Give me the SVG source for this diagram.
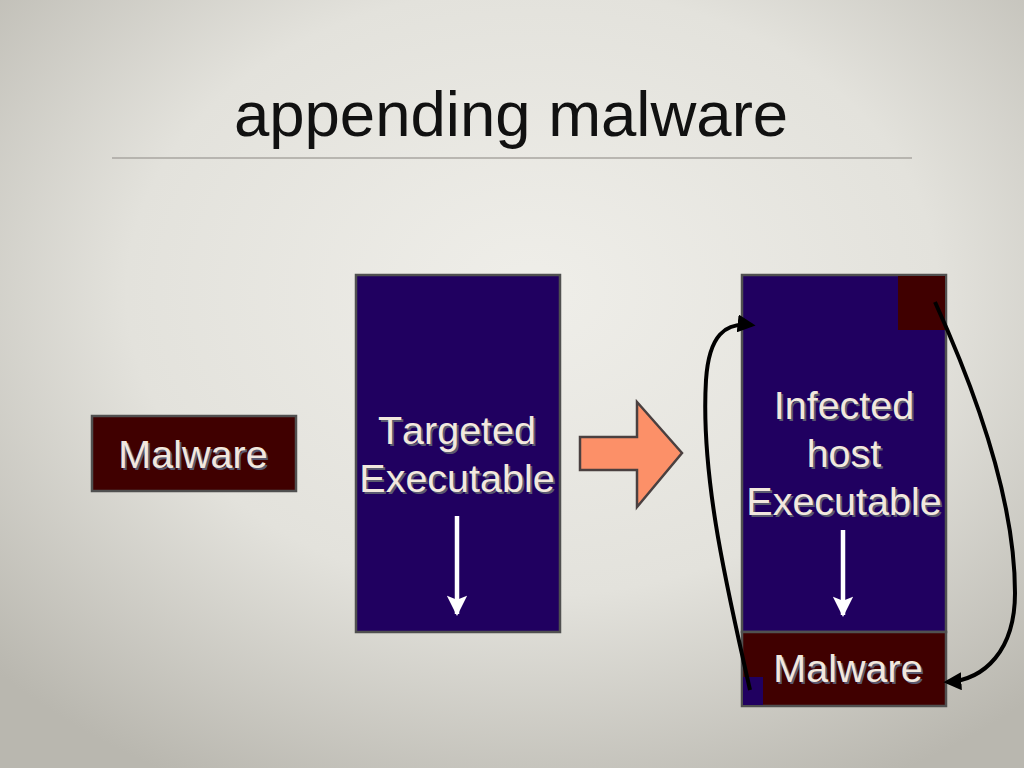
<svg xmlns="http://www.w3.org/2000/svg" width="1024" height="768" viewBox="0 0 1024 768">
<defs>
<radialGradient id="bg" cx="52%" cy="38%" r="72%">
<stop offset="0" stop-color="#EFEEE9"/>
<stop offset="0.55" stop-color="#E3E2DC"/>
<stop offset="1" stop-color="#B9B7AF"/>
</radialGradient>
<marker id="ah" viewBox="0 0 10 10" refX="8" refY="5" markerWidth="4.5" markerHeight="4.5" orient="auto">
<path d="M0,0 L10,5 L0,10 z" fill="#000"/>
</marker>
<marker id="wh" viewBox="0 0 10 10" refX="9" refY="5" markerWidth="5" markerHeight="4.5" orient="auto">
<path d="M0,0 L10,5 L0,10 L2,5 z" fill="#fff"/>
</marker>
</defs>
<style>
.blue{fill:#200060;stroke:#505050;stroke-width:2.5}
.red{fill:#400000;stroke:#505050;stroke-width:2.5}
.lbl{font-family:"Liberation Sans",Arial,sans-serif;font-size:39.5px;fill:#F2E8DE;text-anchor:middle;font-kerning:none}
.sh{font-family:"Liberation Sans",Arial,sans-serif;font-size:39.5px;fill:#5A5A70;text-anchor:middle;font-kerning:none}
.title{font-family:"Liberation Sans",Arial,sans-serif;font-size:63.5px;fill:#111;text-anchor:middle;font-kerning:none}
.curve{fill:none;stroke:#000;stroke-width:4;marker-end:url(#ah)}
.down{stroke:#fff;stroke-width:4.5;marker-end:url(#wh)}
</style>
<rect width="1024" height="768" fill="url(#bg)"/>
<g id="title">
<text class="title" x="511" y="136">appending malware</text>
<line x1="112" y1="158" x2="912" y2="158" stroke="#A8A6A0" stroke-width="1.5"/>
</g>
<g id="malware">
<rect class="red" x="92" y="416" width="204" height="75"/>
<text class="sh" x="195" y="470">Malware</text>
<text class="lbl" x="193" y="468">Malware</text>
</g>
<g id="targeted">
<rect class="blue" x="356" y="275" width="204" height="357"/>
<text class="sh" x="459" y="446">Targeted</text>
<text class="lbl" x="457" y="444">Targeted</text>
<text class="sh" x="459" y="494">Executable</text>
<text class="lbl" x="457" y="492">Executable</text>
<line class="down" x1="457" y1="516" x2="457" y2="614"/>
</g>
<g id="transform">
<path d="M580,437 L637,437 L637,402 L682,453 L637,507 L637,470 L580,470 z" fill="#FC9068" stroke="#4A4040" stroke-width="2.5" stroke-linejoin="miter"/>
</g>
<g id="infected">
<rect class="blue" x="742" y="275" width="204" height="357"/>
<rect x="898" y="276" width="47" height="54" fill="#400000"/>
<text class="sh" x="846" y="421">Infected</text>
<text class="lbl" x="844" y="419">Infected</text>
<text class="sh" x="846" y="469">host</text>
<text class="lbl" x="844" y="467">host</text>
<text class="sh" x="846" y="517">Executable</text>
<text class="lbl" x="844" y="515">Executable</text>
<line class="down" x1="843" y1="530" x2="843" y2="615"/>
</g>
<g id="infected-malware">
<rect class="red" x="742" y="632" width="204" height="74"/>
<rect x="743" y="677" width="20" height="28" fill="#200060"/>
<text class="sh" x="850" y="684">Malware</text>
<text class="lbl" x="848" y="682">Malware</text>
</g>
<g id="connectors">
<path class="curve" d="M750,690 C730,600 700,480 706,380 C709,335 725,322 752,325"/>
<path class="curve" d="M935,302 C975,390 1015,500 1015,593 C1015,650 985,680 947,682"/>
</g>
</svg>
